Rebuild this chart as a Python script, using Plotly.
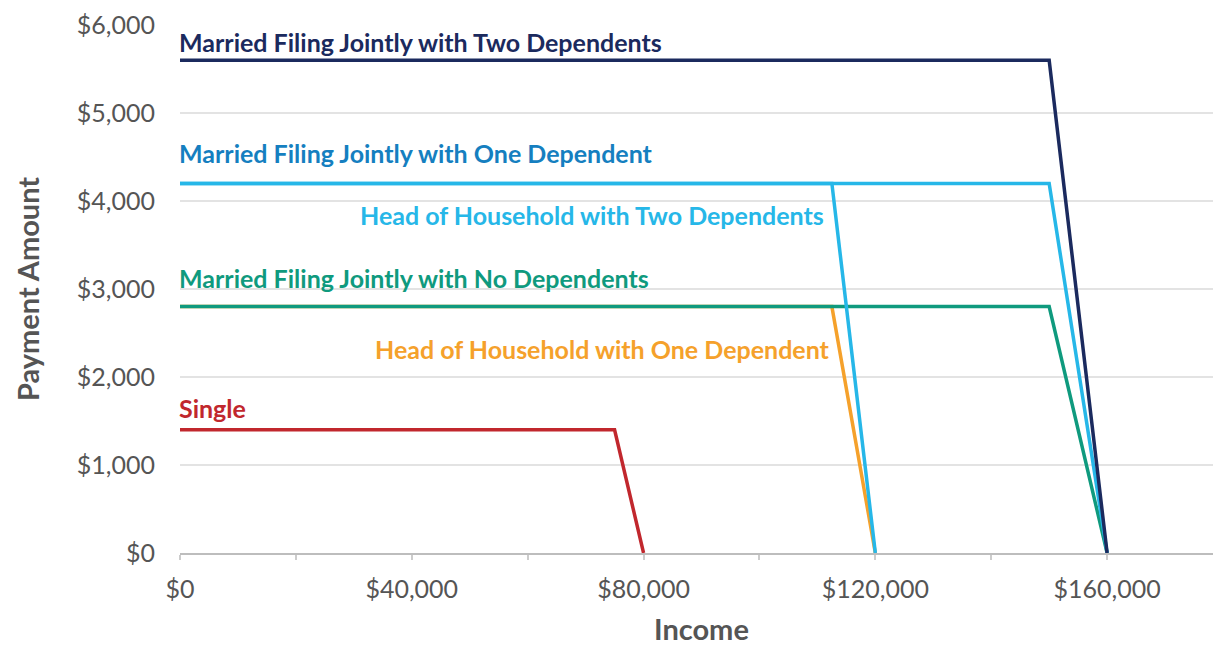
import plotly.graph_objects as go

# Data (income breakpoints, payment amounts)
series_names = [
    "Single",
    "Head of Household with One Dependent",
    "Married Filing Jointly with No Dependents",
    "Head of Household with Two Dependents",
    "Married Filing Jointly with One Dependent",
    "Married Filing Jointly with Two Dependents",
]
single_x = [0, 75000, 80000]
single_y = [1400, 1400, 0]
hoh1_x = [0, 112500, 120000]
hoh1_y = [2800, 2800, 0]
mfj0_x = [0, 150000, 160000]
mfj0_y = [2800, 2800, 0]
hoh2_x = [0, 112500, 120000]
hoh2_y = [4200, 4200, 0]
mfj1_x = [0, 150000, 160000]
mfj1_y = [4200, 4200, 0]
mfj2_x = [0, 150000, 160000]
mfj2_y = [5600, 5600, 0]

x_tickvals = [0, 20000, 40000, 60000, 80000, 100000, 120000, 140000, 160000, 180000]
x_ticktext = ["$0", "", "$40,000", "", "$80,000", "", "$120,000", "", "$160,000", ""]
y_tickvals = [0, 1000, 2000, 3000, 4000, 5000, 6000]
y_ticktext = ["$0", "$1,000", "$2,000", "$3,000", "$4,000", "$5,000", "$6,000"]

line_colors = ["#c1272d", "#f5a12b", "#0f9a7e", "#26b7e8", "#26b7e8", "#1b2a5e"]
label_colors = ["#c1272d", "#f5a12b", "#0f9a7e", "#26b7e8", "#157fc0", "#1b2a5e"]
xs = [single_x, hoh1_x, mfj0_x, hoh2_x, mfj1_x, mfj2_x]
ys = [single_y, hoh1_y, mfj0_y, hoh2_y, mfj1_y, mfj2_y]

fig = go.Figure()
for name, x, y, c in zip(series_names, xs, ys, line_colors):
    fig.add_trace(go.Scatter(x=x, y=y, mode="lines", name=name,
                             line=dict(color=c, width=3.5), showlegend=False,
                             hoverinfo="skip"))

# label placements: (x, y, xanchor)
label_pos = [
    (0, 1616, "left"),
    (112600, 2282, "right"),
    (0, 3096, "left"),
    (111400, 3808, "right"),
    (0, 4508, "left"),
    (0, 5774, "left"),
]
for name, (lx, ly, xa), c in zip(series_names, label_pos, label_colors):
    fig.add_annotation(x=lx, y=ly, xref="x", yref="y", text="<b>%s</b>" % name,
                       showarrow=False, xanchor=xa, yanchor="middle", yshift=3,
                       font=dict(family="Lato", size=25, color=c), xshift=-3 if xa == "left" else 0)

# x-axis title
fig.add_annotation(x=0.5, y=0, xref="paper", yref="paper", text="<b>Income</b>",
                   showarrow=False, xanchor="center", yanchor="middle", yshift=-75, borderpad=0,
                   font=dict(family="Lato", size=29, color="#555555"))

# page body has an 8px margin: size the figure so it fits the 1221x648 window
fig.update_layout(
    width=1215, height=640,
    margin=dict(l=172, r=0, t=17, b=95),
    plot_bgcolor="white", paper_bgcolor="white",
    font=dict(family="Lato", color="#555555"),
    xaxis=dict(range=[0, 180000], tickvals=x_tickvals, ticktext=x_ticktext, automargin=False,
               showgrid=False, zeroline=False, showline=True, linecolor="#bdbdbd", linewidth=2,
               ticks="outside", ticklen=5, tickcolor="#cccccc", tickwidth=1.5,
               tickfont=dict(family="Lato", size=25, color="#555555"),
               ticklabelstandoff=8),
    yaxis=dict(range=[0, 6000], tickvals=y_tickvals, ticktext=y_ticktext, automargin=False,
               showgrid=True, gridcolor="#e3e3e3", gridwidth=1.5, zeroline=False, showline=False,
               tickfont=dict(family="Lato", size=25, color="#555555"),
               ticklabelstandoff=24,
               title=dict(text="<b>Payment Amount</b>", font=dict(family="Lato", size=29, color="#555555"), standoff=28)),
)

fig.write_html("out.html")
